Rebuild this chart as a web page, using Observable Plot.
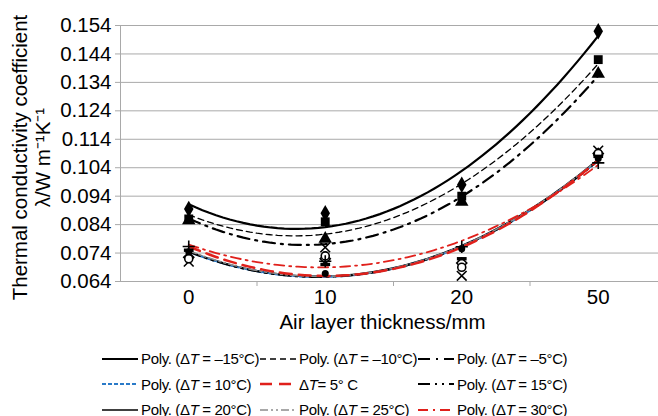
<!DOCTYPE html>
<html><head><meta charset="utf-8">
<script src="https://cdn.jsdelivr.net/npm/d3@7"></script>
<script src="https://cdn.jsdelivr.net/npm/@observablehq/plot@0.6"></script>
<style>
body{margin:0;background:#fff;font-family:"Liberation Sans",Arial,sans-serif;}
#legend{position:relative;width:658px;height:76px;font-size:15px;letter-spacing:-0.35px;color:#000;margin-top:10px}
.item{position:absolute;display:flex;align-items:center;height:25px;white-space:nowrap}
.item svg{margin-right:3px}
</style></head><body>
<div id="chart"></div>
<div id="legend"></div>
<script>
// ---- data ----
const thickness = ["0", "10", "20", "50"];           // x categories (mm)
const deltaT = ["−15", "−10", "−5", "10", "5", "15", "20", "25", "30"];
const lambdaM15 = [0.0895, 0.088, 0.098, 0.152];
const lambdaM10 = [0.086, 0.085, 0.094, 0.142];
const lambdaM5  = [0.0855, 0.079, 0.092, 0.137];
const lambdaP10 = [0.071, 0.076, 0.066, 0.110];
const lambdaP5  = [0.075, 0.070, 0.072, 0.108];
const lambdaP15 = [0.072, 0.073, 0.069, 0.109];
const lambdaP20 = [0.0725, 0.072, 0.0705, 0.109];
const lambdaP25 = [0.0745, 0.0668, 0.0755, 0.1072];
const lambdaP30 = [0.0763, 0.0711, 0.0762, 0.1057];
const yTicks = [0.064, 0.074, 0.084, 0.094, 0.104, 0.114, 0.124, 0.134, 0.144, 0.154];
const legendLabels = [
  "Poly. (Δ<i>T</i> = –15°C)", "Poly. (Δ<i>T</i> = –10°C)", "Poly. (Δ<i>T</i> = –5°C)",
  "Poly. (Δ<i>T</i> = 10°C)", "Δ<i>T</i>= 5° C", "Poly. (Δ<i>T</i> = 15°C)",
  "Poly. (Δ<i>T</i> = 20°C)", "Poly. (Δ<i>T</i> = 25°C)", "Poly. (Δ<i>T</i> = 30°C)"
];
const yTitle = "Thermal conductivity coefficient\nλ/W m⁻¹K⁻¹";
const xTitle = "Air layer thickness/mm";

// ---- styles ----
const values = [lambdaM15, lambdaM10, lambdaM5, lambdaP10, lambdaP5, lambdaP15, lambdaP20, lambdaP25, lambdaP30];
const lineStyle = [
  {stroke: "#000", width: 2.2, dash: null},
  {stroke: "#000", width: 1.3, dash: "6,4"},
  {stroke: "#000", width: 2.2, dash: "12,6,2,6"},
  {stroke: "#2a7ac8", width: 2.2, dash: "4,2"},
  {stroke: "#e0201b", width: 2.5, dash: "12,7"},
  {stroke: "#000", width: 2.2, dash: "12,5,2,5,2,5"},
  {stroke: "#000", width: 1.6, dash: null},
  {stroke: "#8c8c8c", width: 1.6, dash: "8,3,2,3,2,3"},
  {stroke: "#e0201b", width: 1.8, dash: "10,5,2,5"}
];
const barSymbol = {draw(ctx, size) { const w = Math.sqrt(size) * 1.1, h = w * 0.35; ctx.rect(-w/2, -h/2, w, h); }};
const markerStyle = [
  {symbol: "diamond", fill: "#000", stroke: "none", r: 5},
  {symbol: "square", fill: "#000", stroke: "none", r: 5},
  {symbol: "triangle", fill: "#000", stroke: "none", r: 5},
  {symbol: "times", fill: "none", stroke: "#000", r: 4.5},
  {symbol: barSymbol, fill: "#000", stroke: "none", r: 5},
  {symbol: "circle", fill: "#fff", stroke: "#000", r: 4},
  {symbol: "diamond2", fill: "#fff", stroke: "#000", r: 4.5},
  {symbol: "circle", fill: "#000", stroke: "none", r: 3.5},
  {symbol: "plus", fill: "none", stroke: "#000", r: 4}
];

// ---- polynomial (order 2) trendline, least squares on category index 1..4 ----
const xIndex = thickness.map((_, i) => i + 1);
function quadFit(ys) {
  const n = ys.length;
  let s = [0, 0, 0, 0, 0], t = [0, 0, 0];
  for (let i = 0; i < n; i++) {
    const x = xIndex[i];
    for (let k = 0; k < 5; k++) s[k] += x ** k;
    for (let k = 0; k < 3; k++) t[k] += ys[i] * x ** k;
  }
  const M = [[s[0], s[1], s[2]], [s[1], s[2], s[3]], [s[2], s[3], s[4]]];
  const det = m => m[0][0]*(m[1][1]*m[2][2]-m[1][2]*m[2][1]) - m[0][1]*(m[1][0]*m[2][2]-m[1][2]*m[2][0]) + m[0][2]*(m[1][0]*m[2][1]-m[1][1]*m[2][0]);
  const D = det(M);
  const coef = [0, 1, 2].map(c => det(M.map((row, r) => row.map((v, j) => j === c ? t[r] : v))) / D);
  return x => coef[0] + coef[1] * x + coef[2] * x * x;
}

const points = [], curves = [];
values.forEach((ys, si) => {
  ys.forEach((y, i) => points.push({s: si, x: xIndex[i], y}));
  const f = quadFit(ys);
  d3.range(1, 4.0001, 0.05).forEach(x => curves.push({s: si, x, y: f(x)}));
});

const W = 658, H = 336, bottomY = 281;
const drawOrder = [6, 3, 5, 7, 4, 8, 2, 1, 0];
const marks = [
  Plot.gridY(yTicks, {stroke: "#a9a9a9", strokeOpacity: 1, strokeWidth: 1}),
  Plot.ruleX([0.5], {stroke: "#a9a9a9"}),
  Plot.axisY(yTicks, {tickSize: 5, tickPadding: 4, tickFormat: d3.format(".3f"), stroke: "#a9a9a9", fill: "#000", fontSize: 20.5, label: null}),
  Plot.axisX([1.5, 2.5, 3.5], {tickSize: 5, tickFormat: () => "", stroke: "#a9a9a9", label: null}),
  Plot.axisX(xIndex, {tickSize: 0, tickPadding: 8, tickFormat: i => thickness[i - 1], fill: "#000", fontSize: 20.5, label: null})
];
drawOrder.forEach(si => {
  const st = lineStyle[si];
  marks.push(Plot.line(curves.filter(d => d.s === si), {x: "x", y: "y", stroke: st.stroke, strokeWidth: st.width, strokeDasharray: st.dash, curve: "linear"}));
});
drawOrder.forEach(si => {
  const m = markerStyle[si];
  marks.push(Plot.dot(points.filter(d => d.s === si), {x: "x", y: "y", symbol: m.symbol, fill: m.fill, stroke: m.stroke, r: m.r, strokeWidth: 1.6}));
});
marks.push(Plot.text([yTitle], {text: d => d, frameAnchor: "left", textAnchor: "middle", lineAnchor: "middle", rotate: -90, dx: -89, dy: 4, fontSize: 20.5, lineHeight: 1.12, fill: "#000"}));
marks.push(Plot.text([xTitle], {text: d => d, frameAnchor: "bottom", lineAnchor: "middle", dx: -11, dy: 41, fontSize: 20.5, fill: "#000"}));

const chart = Plot.plot({
  width: W, height: H,
  marginLeft: 120, marginRight: -8, marginTop: 25, marginBottom: H - bottomY,
  style: {fontFamily: "Liberation Sans, Arial, sans-serif", fontSize: "20px", overflow: "visible", background: "#fff"},
  x: {type: "linear", domain: [0.5, 4.5], axis: null},
  y: {type: "linear", domain: [0.064, 0.154], axis: null},
  marks
});
document.getElementById("chart").append(chart);

// ---- legend ----
const legend = document.getElementById("legend");
const colX = [102, 260, 418];
legendLabels.forEach((lab, i) => {
  const st = lineStyle[i];
  const div = document.createElement("div");
  div.className = "item";
  div.style.left = colX[i % 3] + "px";
  div.style.top = (Math.floor(i / 3) * 25.5) + "px";
  div.innerHTML = `<svg width="36" height="10"><line x1="0" x2="36" y1="5" y2="5" stroke="${st.stroke}" stroke-width="${st.width}" ${st.dash ? `stroke-dasharray="${st.dash}"` : ""}/></svg><span>${lab}</span>`;
  legend.append(div);
});
</script>
</body></html>
